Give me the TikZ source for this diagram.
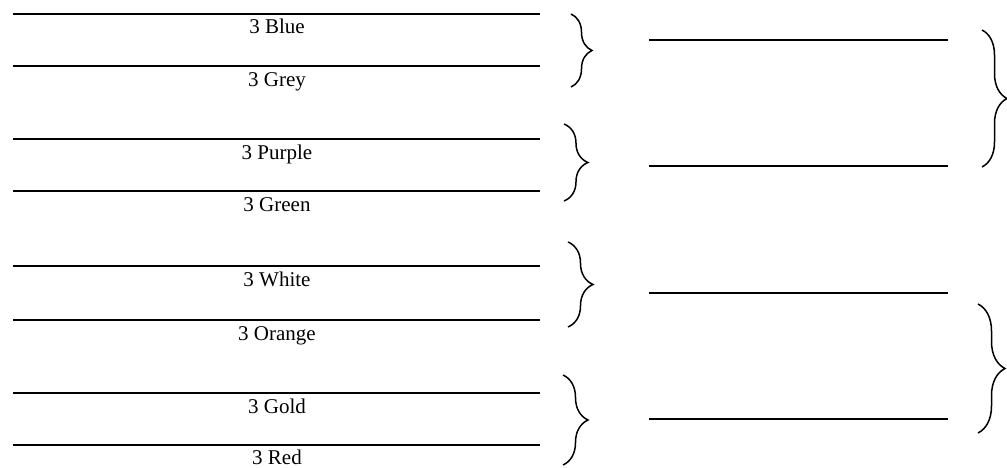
\documentclass[tikz,border=0pt]{standalone}
\usepackage{fontspec}
\setmainfont{Liberation Serif}
\usetikzlibrary{decorations.pathreplacing}
\tikzset{every node/.style={font=\fontsize{21}{25}\selectfont},line cap=butt,line join=round}
\tikzset{rule/.style={line width=2pt},
  cbrace/.style={decorate,decoration={brace,amplitude=#1},line width=1.5pt},
  lbl/.style={anchor=base,inner sep=0pt}}
\begin{document}
\begin{tikzpicture}[x=1pt,y=1pt]
  \path[use as bounding box] (0,0) rectangle (1007,467);
  % left column
  \draw[rule] (13,453) -- (540,453);
  \draw[rule] (13,401) -- (540,401);
  \draw[rule] (13,328) -- (540,328);
  \draw[rule] (13,276) -- (540,276);
  \draw[rule] (13,201) -- (540,201);
  \draw[rule] (13,147) -- (540,147);
  \draw[rule] (13,74) -- (540,74);
  \draw[rule] (13,22) -- (540,22);
  \node[lbl] (blue) at (277,433) {3 Blue};
  \node[lbl] (grey) at (277,381) {3 Grey};
  \node[lbl] (purple) at (277,308) {3 Purple};
  \node[lbl] (green) at (277,256) {3 Green};
  \node[lbl] (white) at (277,181) {3 White};
  \node[lbl] (orange) at (277,127) {3 Orange};
  \node[lbl] (gold) at (277,54) {3 Gold};
  \node[lbl] (red) at (277,3) {3 Red};
  % right column
  \draw[rule] (649,427) -- (948,427);
  \draw[rule] (649,301) -- (948,301);
  \draw[rule] (649,174) -- (948,174);
  \draw[rule] (649,48) -- (948,48);
  % braces
  \coordinate (b1t) at (571,453); \coordinate (b1b) at (571,380);
  \coordinate (b2t) at (564,343); \coordinate (b2b) at (564,266);
  \coordinate (b3t) at (568,225); \coordinate (b3b) at (568,140);
  \coordinate (b4t) at (563,92);  \coordinate (b4b) at (563,2);
  \coordinate (b5t) at (982,437); \coordinate (b5b) at (982,300);
  \coordinate (b6t) at (978,163); \coordinate (b6b) at (978,34);
  \draw[cbrace=21] (b1t) -- (b1b);
  \draw[cbrace=24] (b2t) -- (b2b);
  \draw[cbrace=25] (b3t) -- (b3b);
  \draw[cbrace=25] (b4t) -- (b4b);
  \draw[cbrace=25] (b5t) -- (b5b);
  \draw[cbrace=27] (b6t) -- (b6b);
\end{tikzpicture}
\end{document}
